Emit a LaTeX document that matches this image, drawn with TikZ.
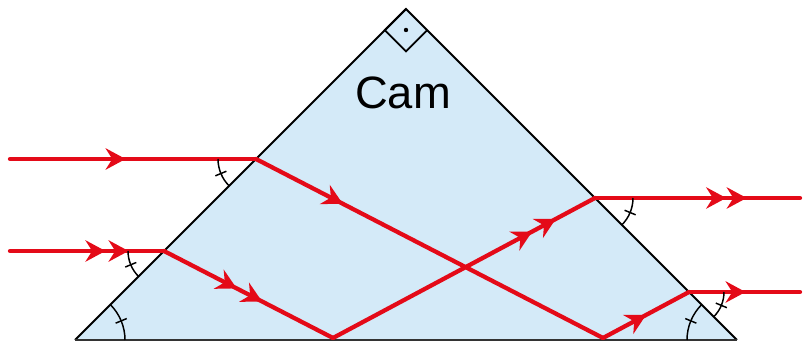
\documentclass[tikz,border=0pt]{standalone}
\usepackage{fontspec}
\setmainfont{Liberation Sans}
\usetikzlibrary{arrows.meta,decorations.markings}
\definecolor{raycol}{RGB}{228,10,24}
\definecolor{glass}{RGB}{212,234,248}

\begin{document}
\begin{tikzpicture}[x=0.75pt,y=0.75pt,
  ray/.style={color=raycol,line width=3.2pt,line cap=round,line join=round},
  edge/.style={line width=1.4pt},
  mk/.style={line width=1.1pt},
  tip/.style={postaction={decorate,decoration={markings,
    mark=at position #1 with {\arrow{Stealth[length=15pt,width=16pt,inset=5pt]}}}}}]
\useasboundingbox (0,0) rectangle (804,345);
% prism
\coordinate (A) at (75,5);
\coordinate (B) at (737,5);
\coordinate (C) at (406,336);
\fill[glass] (A) -- (B) -- (C) -- cycle;
\draw[edge] (B) -- (C) -- (A);
\draw[line width=2pt,black!80] (A) -- (B);
\draw[edge] (C) -- ++(-135:30) -- ++(-45:30) -- ++(45:30);
\fill (C) ++(0,-21) circle (2.2);
\node[font=\fontsize{34}{38}\selectfont] (cam) at (403,252) {Cam};
% rays
\coordinate (s1) at (10,186);
\coordinate (i1) at (256,186);
\coordinate (b1) at (603,7);
\coordinate (o1) at (689,53);
\coordinate (e1) at (800,53);
\coordinate (s2) at (10,94);
\coordinate (i2) at (164,94);
\coordinate (b2) at (333,7);
\coordinate (o2) at (595,147);
\coordinate (e2) at (800,147);
\draw[ray,tip=0.47] (s1) -- (i1);
\draw[ray,tip=0.25] (i1) -- (b1);
\draw[ray,tip=0.5] (b1) -- (o1);
\draw[ray,tip=0.51] (o1) -- (e1);
\draw[ray,tip=0.62,tip=0.77] (s2) -- (i2);
\draw[ray,tip=0.43,tip=0.58] (i2) -- (b2);
\draw[ray,tip=0.76,tip=0.85] (b2) -- (o2);
\draw[ray,tip=0.64,tip=0.74] (o2) -- (e2);
% angles
\foreach \p/\a/\r in {A/0/50,B/135/50,i2/180/36,i1/180/38,o2/-45/38,o1/-45/35}{
  \draw[mk] ([shift={(\a:\r)}]\p) arc[start angle=\a,delta angle=45,radius=\r];
  \draw[mk] ([shift={({\a+22.5}:{\r-6})}]\p) -- ([shift={({\a+22.5}:{\r+6})}]\p);
}
\end{tikzpicture}
\end{document}
